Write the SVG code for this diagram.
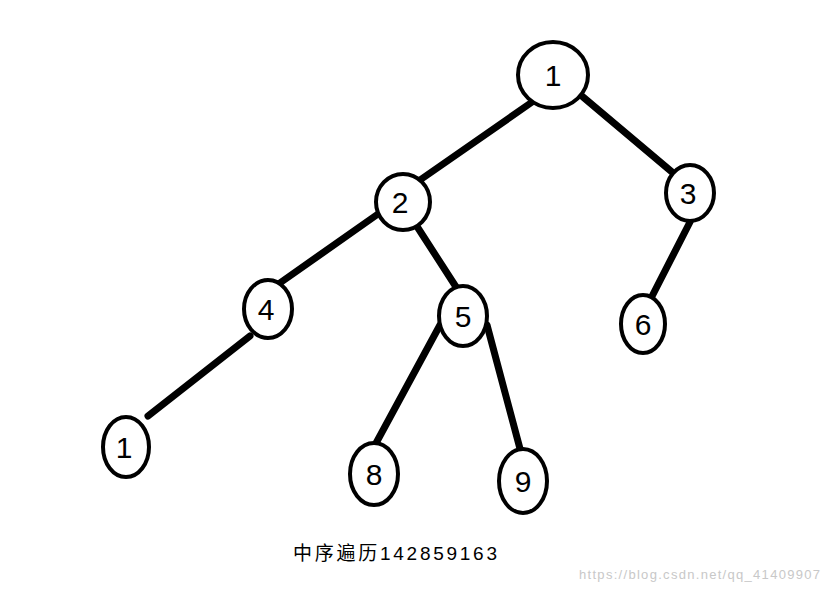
<svg xmlns="http://www.w3.org/2000/svg" width="830" height="592" viewBox="0 0 830 592">
<style>
.n{fill:#fff;stroke:#000;stroke-width:4}
.d{font-family:"Liberation Sans",sans-serif;font-size:30px;text-anchor:middle;fill:#000}
.e{stroke:#000;stroke-width:7;stroke-linecap:round}
</style>
<rect width="830" height="592" fill="#fff"/>
<g id="edges">
<line class="e" x1="535" y1="100" x2="420" y2="180"/>
<line class="e" x1="583" y1="97" x2="672" y2="172"/>
<line class="e" x1="378" y1="214" x2="277" y2="285"/>
<line class="e" x1="418" y1="228" x2="458" y2="290"/>
<line class="e" x1="690" y1="222" x2="645" y2="310"/>
<line class="e" x1="250" y1="336" x2="148" y2="416"/>
<line class="e" x1="440" y1="325" x2="375" y2="445"/>
<line class="e" x1="487" y1="325" x2="523" y2="460"/>
</g>
<g id="n1"><ellipse class="n" cx="553" cy="75" rx="35" ry="33"/><text class="d" x="553" y="86">1</text></g>
<g id="n2"><ellipse class="n" cx="403" cy="202" rx="27" ry="28"/><text class="d" x="400" y="213">2</text></g>
<g id="n3"><ellipse class="n" cx="690" cy="193" rx="24" ry="28"/><text class="d" x="688" y="204">3</text></g>
<g id="n4"><ellipse class="n" cx="268" cy="309" rx="24" ry="29"/><text class="d" x="266" y="320">4</text></g>
<g id="n5"><ellipse class="n" cx="463" cy="316" rx="24" ry="30"/><text class="d" x="463" y="327">5</text></g>
<g id="n6"><ellipse class="n" cx="643" cy="324" rx="22" ry="29"/><text class="d" x="643" y="335">6</text></g>
<g id="n1b"><ellipse class="n" cx="126" cy="447" rx="23" ry="30"/><text class="d" x="124" y="458">1</text></g>
<g id="n8"><ellipse class="n" cx="374" cy="474" rx="24" ry="31"/><text class="d" x="374" y="485">8</text></g>
<g id="n9"><ellipse class="n" cx="523" cy="481" rx="24" ry="32"/><text class="d" x="523" y="492">9</text></g>
<text x="293" y="560" textLength="204" font-family="'Liberation Sans','Noto Sans CJK SC',sans-serif" font-size="19" fill="#000">中序遍历142859163</text>
<text x="579" y="579" textLength="241" font-family="'Liberation Sans',sans-serif" font-size="13" fill="#c8c8c8">https://blog.csdn.net/qq_41409907</text>
</svg>
